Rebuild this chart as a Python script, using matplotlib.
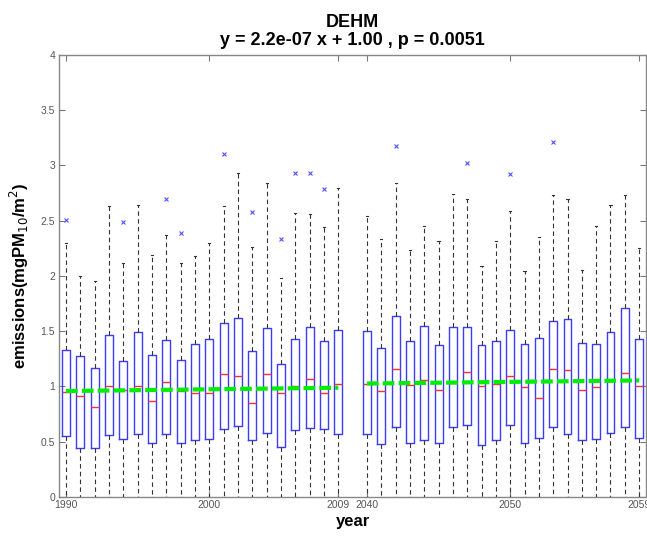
import numpy as np
import matplotlib
matplotlib.use("Agg")
import matplotlib.pyplot as plt

plt.rcParams["font.family"] = ["Liberation Sans", "DejaVu Sans"]

years = list(range(1990, 2010)) + list(range(2040, 2060))

# box statistics
whislo = [0.0] * 40
q1 = [0.55, 0.44, 0.44, 0.56, 0.52, 0.57, 0.49, 0.57, 0.49, 0.51,
      0.52, 0.61, 0.64, 0.51, 0.58, 0.45, 0.60, 0.62, 0.61, 0.57,
      0.57, 0.48, 0.63, 0.49, 0.51, 0.49, 0.63, 0.65, 0.47, 0.51,
      0.65, 0.49, 0.53, 0.63, 0.57, 0.51, 0.52, 0.58, 0.63, 0.53]
med = [0.95, 0.91, 0.81, 1.00, 0.97, 1.00, 0.87, 1.04, 0.96, 0.94,
       0.94, 1.11, 1.09, 0.85, 1.11, 0.94, 1.00, 1.07, 0.94, 1.02,
       1.02, 0.96, 1.16, 1.01, 1.06, 0.97, 1.03, 1.13, 1.00, 1.02,
       1.09, 0.99, 0.89, 1.16, 1.15, 0.97, 0.99, 1.05, 1.12, 1.00]
q3 = [1.33, 1.27, 1.17, 1.46, 1.23, 1.49, 1.28, 1.42, 1.24, 1.38,
      1.43, 1.57, 1.62, 1.32, 1.53, 1.20, 1.43, 1.54, 1.41, 1.51,
      1.50, 1.35, 1.64, 1.41, 1.55, 1.37, 1.54, 1.54, 1.37, 1.41,
      1.51, 1.38, 1.44, 1.59, 1.61, 1.39, 1.38, 1.49, 1.71, 1.43]
whishi = [2.30, 2.00, 1.95, 2.63, 2.12, 2.64, 2.19, 2.37, 2.12, 2.18,
          2.30, 2.63, 2.93, 2.26, 2.84, 1.98, 2.57, 2.56, 2.44, 2.80,
          2.54, 2.33, 2.84, 2.23, 2.45, 2.32, 2.74, 2.70, 2.09, 2.32,
          2.59, 2.04, 2.35, 2.73, 2.70, 2.05, 2.45, 2.64, 2.73, 2.25]
outliers = {1990: [2.51], 1994: [2.49], 1997: [2.70], 1998: [2.39],
            2001: [3.10], 2003: [2.58], 2005: [2.33], 2006: [2.93],
            2007: [2.93], 2008: [2.79], 2042: [3.18], 2047: [3.02],
            2050: [2.92], 2053: [3.21]}

# fitted trend at the ends of each period
trend_years_1 = [1990, 2009]
trend_vals_1 = [0.957, 0.987]
trend_years_2 = [2040, 2059]
trend_vals_2 = [1.025, 1.053]

tick_years = [1990, 2000, 2009, 2040, 2050, 2059]

# x positions: one slot per year, two empty slots between the periods
pos = {}
for i, yr in enumerate(years):
    pos[yr] = i + 1 if yr < 2040 else i + 2

stats = []
for i, yr in enumerate(years):
    stats.append(dict(whislo=whislo[i], q1=q1[i], med=med[i], q3=q3[i],
                      whishi=whishi[i], fliers=outliers.get(yr, [])))

fig = plt.figure(figsize=(6.47, 5.37), dpi=100)
ax = fig.add_axes([0.0917, 0.075, 0.907, 0.8226])

ax.bxp(stats, positions=[pos[y] for y in years], widths=0.55,
       showcaps=True,
       boxprops=dict(color="#3c3cff", linewidth=1.0),
       medianprops=dict(color="#ff3030", linewidth=1.0),
       whiskerprops=dict(color="#333333", linewidth=0.8, linestyle=(0, (4, 3))),
       capprops=dict(color="#333333", linewidth=0.8),
       capwidths=0.15,
       flierprops=dict(marker="x", markeredgecolor="#5050ff", markersize=3.5,
                       markeredgewidth=0.8, linestyle="none"))

for ty, tv in [(trend_years_1, trend_vals_1), (trend_years_2, trend_vals_2)]:
    ax.plot([pos[y] for y in ty], tv, color="#00ee00", linewidth=3,
            linestyle=(0, (2.8, 1.0)), zorder=5)

ax.set_xlim(0.53, 41.49)
ax.set_ylim(0, 4)
ax.set_xticks([pos[y] for y in tick_years])
ax.set_xticklabels([str(y) for y in tick_years])
ax.set_yticks(np.arange(0, 4.01, 0.5))
ax.set_yticklabels(["0", "0.5", "1", "1.5", "2", "2.5", "3", "3.5", "4"])
ax.tick_params(direction="in", length=4, width=0.8, colors="#777777",
               labelcolor="#555555", labelsize=7.5, top=True, right=True, pad=2)
ax.tick_params(axis="y", pad=3)
for sp in ax.spines.values():
    sp.set_color("#888888")
    sp.set_linewidth(1.0)

ax.set_xlabel("year", fontsize=12, fontweight="bold", labelpad=3)
ax.set_ylabel("emissions(mgPM$_{10}$/m$^2$)", fontsize=12, fontweight="bold",
              labelpad=7)
ax.set_title("DEHM\ny = 2.2e-07 x + 1.00 , p = 0.0051", fontsize=13,
             fontweight="bold", pad=7, linespacing=1.1)

fig.savefig("out.png", dpi=100)
